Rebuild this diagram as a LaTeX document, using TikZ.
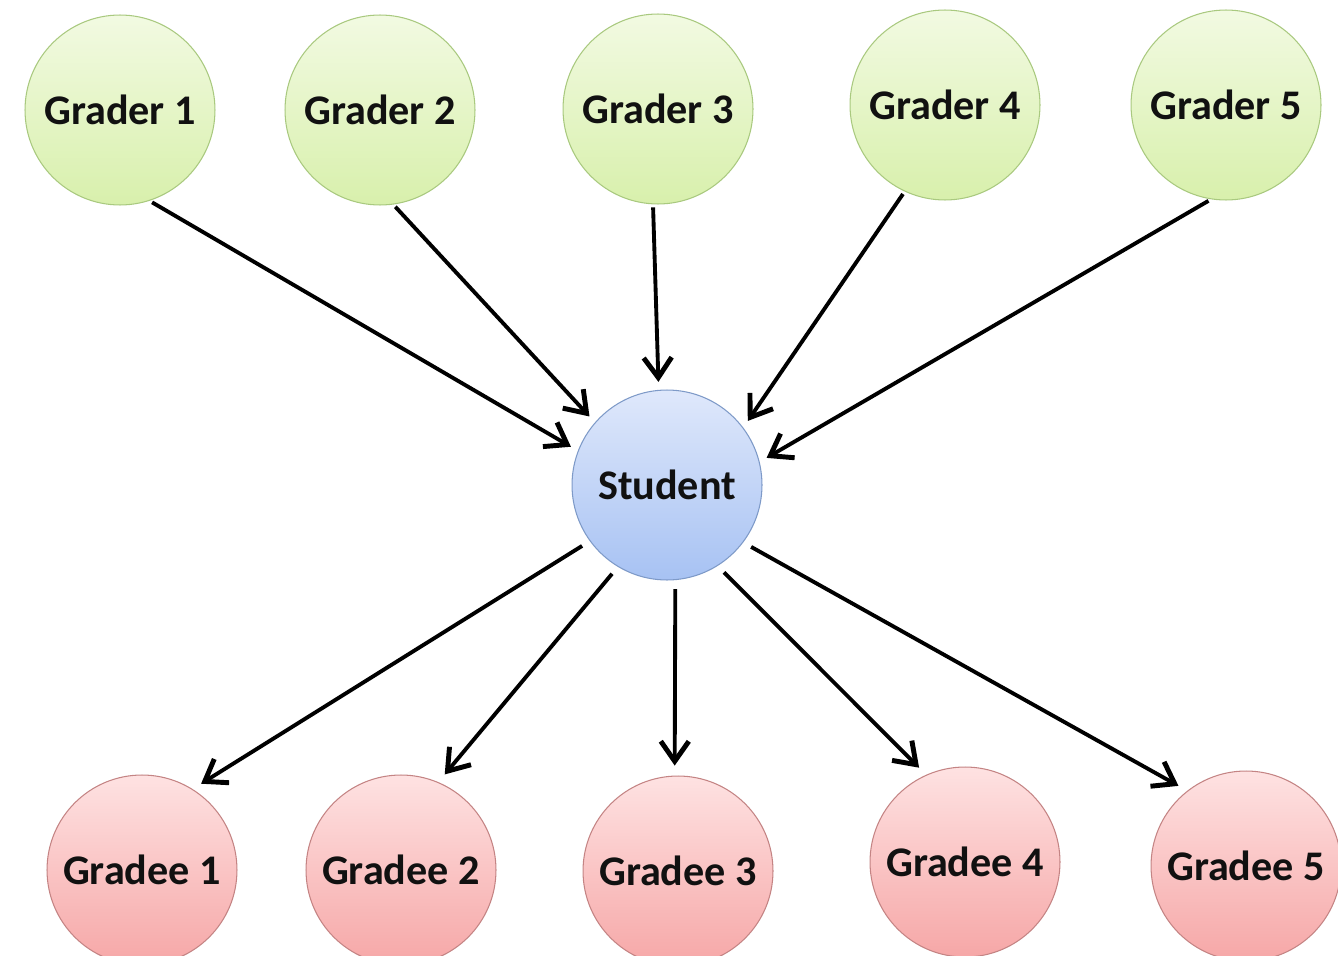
\documentclass[tikz,border=0pt]{standalone}
\usepackage{fontspec}
\setmainfont{Carlito}
\usepackage{xcolor}
\usetikzlibrary{arrows.meta}
\definecolor{gradertop}{HTML}{F2FAE2}
\definecolor{graderbot}{HTML}{D8F0AC}
\definecolor{graderline}{HTML}{A9C97F}
\definecolor{studenttop}{HTML}{DFE8FB}
\definecolor{studentbot}{HTML}{A7C2F3}
\definecolor{studentline}{HTML}{7E9AC8}
\definecolor{gradeetop}{HTML}{FEE2E2}
\definecolor{gradeebot}{HTML}{F6A7A7}
\definecolor{gradeeline}{HTML}{C48484}
\definecolor{textdark}{HTML}{111111}
\tikzset{
  arr/.style={-{Straight Barb[length=0.4cm,width=0.56cm,line width=2.8pt]}, line width=2.2pt, black},
  person/.style={circle, minimum size=3.8cm, inner sep=0pt, line width=0.6pt, text=textdark, font=\fontsize{24}{28}\selectfont\bfseries},
  grader/.style={person, draw=graderline, top color=gradertop, bottom color=graderbot},
  student/.style={person, draw=studentline, top color=studenttop, bottom color=studentbot},
  gradee/.style={person, draw=gradeeline, top color=gradeetop, bottom color=gradeebot},
}
\begin{document}
\begin{tikzpicture}[x=0.02cm, y=-0.02cm]
  \useasboundingbox (0,0) rectangle (1338,956);
  \clip (0,0) rectangle (1338,956);

  % Graders
  \node[grader] (g1) at (120,110) {Grader 1};
  \node[grader] (g2) at (380,110) {Grader 2};
  \node[grader] (g3) at (658,109) {Grader 3};
  \node[grader] (g4) at (945,105) {Grader 4};
  \node[grader] (g5) at (1226,105) {Grader 5};

  % Student
  \node[student] (st) at (667,485) {Student};

  % Gradees
  \node[gradee] (d1) at (142,870) {Gradee 1};
  \node[gradee] (d2) at (401,870) {Gradee 2};
  \node[gradee] (d3) at (678,871) {Gradee 3};
  \node[gradee] (d4) at (965,862) {Gradee 4};
  \node[gradee] (d5) at (1246,866) {Gradee 5};

  % Graders -> student
  \foreach \g/\a/\b in {g1/-72/159, g2/-82/139, g3/-93/95, g4/-115/37, g5/-99/14}
    \draw[arr, shorten <=0.06cm, shorten >=0.16cm] (\g.\a) -- (st.\b);

  % Student -> gradees
  \foreach \d/\a/\b in {d1/-144/58, d2/-121/67, d3/-85/92, d4/-58/114, d5/-37/128}
    \draw[arr, shorten <=0.18cm, shorten >=0.2cm] (st.\a) -- (\d.\b);
\end{tikzpicture}
\end{document}
